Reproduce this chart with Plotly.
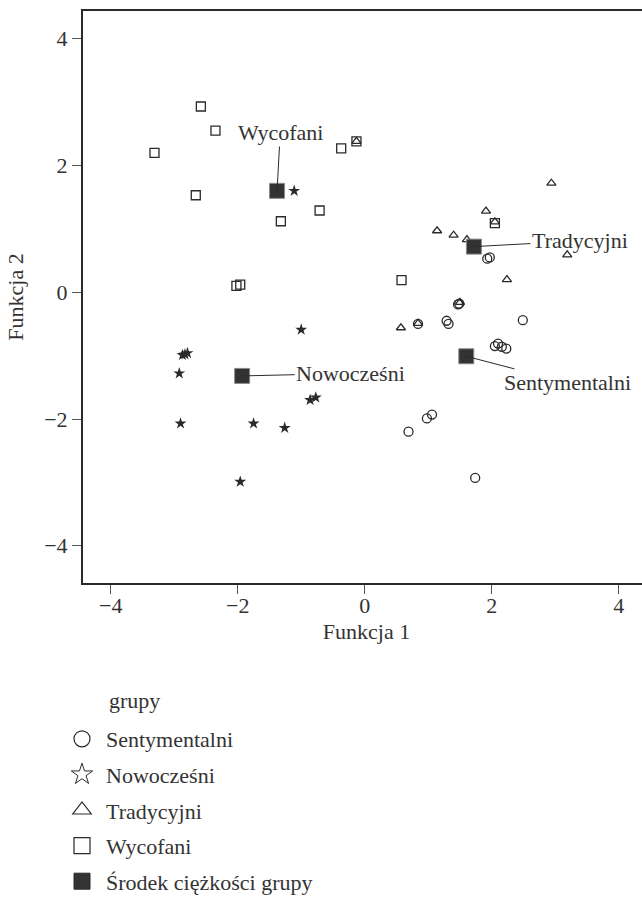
import plotly.graph_objects as go

# ---- data ----
sent_x = [1.93, 1.97, 1.47, 1.49, 0.84, 1.29, 1.32, 2.49, 2.05, 2.10, 2.16, 2.23, 1.06, 0.98, 0.69, 1.74]
sent_y = [0.53, 0.55, -0.19, -0.18, -0.50, -0.45, -0.50, -0.44, -0.85, -0.81, -0.86, -0.89, -1.93, -1.99, -2.20, -2.93]

now_x = [-1.11, -1.00, -2.87, -2.83, -2.79, -2.92, -0.86, -0.77, -2.90, -1.75, -1.26, -1.96]
now_y = [1.60, -0.59, -0.99, -0.98, -0.96, -1.28, -1.70, -1.66, -2.07, -2.07, -2.14, -2.99]

trad_x = [2.94, 1.91, 2.05, 1.14, 1.40, 1.61, 3.19, 2.24, 1.50, 0.57, 0.84, -0.13]
trad_y = [1.72, 1.28, 1.11, 0.97, 0.90, 0.83, 0.59, 0.20, -0.16, -0.56, -0.49, 2.38]

wyc_x = [-2.58, -2.35, -3.31, -2.66, -0.37, -0.13, -0.71, -1.32, -2.02, -1.96, 0.58, 2.05]
wyc_y = [2.93, 2.55, 2.20, 1.53, 2.27, 2.38, 1.29, 1.12, 0.10, 0.12, 0.19, 1.09]

cent_names = ["Wycofani", "Tradycyjni", "Nowocześni", "Sentymentalni"]
cent_x = [-1.38, 1.72, -1.93, 1.60]
cent_y = [1.60, 0.72, -1.32, -1.01]

group_names = ["Sentymentalni", "Nowocześni", "Tradycyjni", "Wycofani", "Środek ciężkości grupy"]
legend_title = "grupy"
x_ticks = [-4, -2, 0, 2, 4]
y_ticks = [-4, -2, 0, 2, 4]

FONT = "Liberation Serif, Times New Roman, serif"
INK = "#2a2a2a"
TXT = "#333333"
FS = 22

# plot-area geometry in page pixels (plot runs a little past the 642px window)
W, H = 650, 902
PL, PT, PR, PB = 83, 11, 650, 583
PW, PH = PR - PL, PB - PT

fig = go.Figure()

def pts(x, y, symbol, size, name):
    fig.add_trace(go.Scatter(
        x=x, y=y, mode="markers", name=name, showlegend=False,
        marker=dict(symbol=symbol, size=size, color="rgba(255,255,255,0)",
                    line=dict(color=INK, width=1.3)),
        hoverinfo="skip"))

pts(sent_x, sent_y, "circle", 9, group_names[0])
pts(wyc_x, wyc_y, "square", 9, group_names[3])
pts(trad_x, trad_y, "triangle-up", 8, group_names[2])
fig.add_trace(go.Scatter(
    x=now_x, y=now_y, mode="markers", showlegend=False,
    marker=dict(symbol="star", size=9, color=INK, line=dict(width=0)),
    hoverinfo="skip"))

fig.add_trace(go.Scatter(
    x=cent_x, y=cent_y, mode="markers", showlegend=False,
    marker=dict(symbol="square", size=15, color="#333333",
                line=dict(color="#8a8a8a", width=1)),
    hoverinfo="skip"))

# legend-only traces
leg_syms = [("circle", "white", 1.2), ("star-open", INK, 1.0),
            ("triangle-up", "white", 1.2), ("square", "white", 1.2),
            ("square", "#333333", 1.0)]
for nm, (sym, col, lw) in zip(group_names, leg_syms):
    fig.add_trace(go.Scatter(
        x=[None], y=[None], mode="markers", name=nm, legendgroup=nm,
        marker=dict(symbol=sym, size=16, color=col,
                    line=dict(color=INK, width=lw))))

# centroid labels with leader lines
label_pos = {"Wycofani": (-1.33, 2.52), "Tradycyjni": (3.39, 0.81),
             "Nowocześni": (-0.22, -1.28), "Sentymentalni": (3.20, -1.43)}
for nm, cx, cy in zip(cent_names, cent_x, cent_y):
    ax_, ay_ = label_pos[nm]
    fig.add_annotation(x=cx, y=cy, ax=ax_, ay=ay_, axref="x", ayref="y",
                       xref="x", yref="y", text=nm, showarrow=True,
                       arrowhead=0, arrowwidth=1, arrowcolor=INK, standoff=0,
                       borderpad=1,
                       font=dict(family=FONT, size=FS, color=TXT))

# legend title aligned with the legend texts
fig.add_annotation(text=legend_title, xref="paper", yref="paper",
                   x=(107 - PL) / PW, y=(PB - 700) / PH,
                   xanchor="left", yanchor="middle", showarrow=False,
                   font=dict(family=FONT, size=FS, color=TXT))

fig.update_layout(
    width=W, height=H,
    margin=dict(l=PL, r=W - PR, t=PT, b=H - PB, autoexpand=False),
    paper_bgcolor="white", plot_bgcolor="white",
    font=dict(family=FONT, size=FS, color=TXT),
    showlegend=True,
    legend=dict(x=(58 - PL) / PW, y=(PB - 718) / PH, xanchor="left", yanchor="top",
                bgcolor="rgba(0,0,0,0)", tracegroupgap=4, itemwidth=38,
                font=dict(family=FONT, size=FS, color=TXT)),
    xaxis=dict(range=[-4.436, 4.493], tickvals=x_ticks, showgrid=False, zeroline=False,
               showline=True, linecolor=INK, linewidth=2, mirror=True,
               ticks="outside", ticklen=9, tickwidth=1, tickcolor="#555555",
               ticklabelstandoff=-7,
               tickfont=dict(family=FONT, size=FS, color=TXT),
               title=dict(text="Funkcja 1", standoff=6,
                          font=dict(family=FONT, size=FS, color=TXT))),
    yaxis=dict(range=[-4.587, 4.437], tickvals=y_ticks, showgrid=False, zeroline=False,
               showline=True, linecolor=INK, linewidth=2, mirror=False,
               ticks="outside", ticklen=9, tickwidth=1, tickcolor="#555555",
               tickfont=dict(family=FONT, size=FS, color=TXT),
               title=dict(text="Funkcja 2", standoff=14,
                          font=dict(family=FONT, size=FS, color=TXT))),
)

fig.write_html(
    "out.html",
    config={"displayModeBar": False},
    post_script="document.body.style.margin='0';document.body.style.overflow='hidden';",
)
